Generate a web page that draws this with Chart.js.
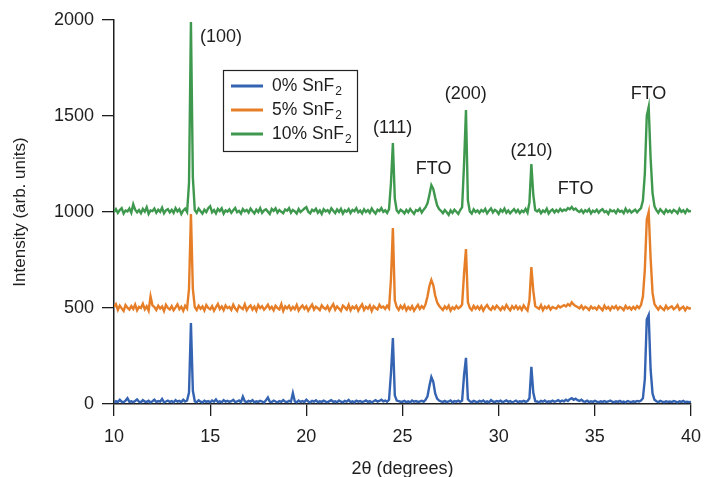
<!DOCTYPE html>
<html>
<head>
<meta charset="utf-8">
<script src="https://cdn.jsdelivr.net/npm/chart.js@4"></script>
<style>
  html, body { margin: 0; padding: 0; background: #fff; }
  #wrap { width: 706px; height: 477px; }
</style>
</head>
<body>
<div id="wrap"><canvas id="xrd" width="706" height="477"></canvas></div>
<script>
// 2theta sampling grid, 0.1 degree step from 10 to 40
const twoTheta = Array.from({ length: 301 }, (_, i) => +(10 + i * 0.1).toFixed(1));

const xTicks = [10, 15, 20, 25, 30, 35, 40];
const yTicks = [0, 500, 1000, 1500, 2000];

const seriesNames = ['0% SnF', '5% SnF', '10% SnF'];

// 0% SnF2 (rows = one degree each)
const int0 = [
  8, 15, 10, 22, 12, 9, 18, 30, 11, 14,
  10, 16, 24, 12, 9, 20, 13, 11, 17, 8,
  14, 22, 10, 15, 12, 26, 9, 13, 18, 11,
  15, 9, 20, 12, 16, 10, 22, 13, 18, 60,
  422, 70, 14, 10, 19, 12, 8, 17, 11, 15,
  9, 18, 12, 24, 10, 14, 9, 20, 12, 16,
  11, 15, 22, 10, 13, 18, 9, 38, 14, 10,
  16, 12, 20, 9, 14, 11, 17, 13, 8, 19,
  34, 12, 10, 18, 13, 9, 15, 11, 20, 12,
  10, 16, 12, 57, 14, 9, 18, 11, 15, 10,
  22, 13, 9, 16, 12, 19, 10, 14, 11, 17,
  12, 9, 15, 20, 11, 14, 10, 18, 12, 9,
  16, 12, 21, 10, 14, 9, 17, 12, 15, 10,
  13, 19, 11, 15, 9, 14, 20, 12, 16, 22,
  14, 18, 12, 22, 160, 344, 45, 18, 15, 12,
  12, 16, 10, 14, 9, 18, 12, 15, 11, 13,
  17, 12, 22, 40, 95, 140, 115, 55, 28, 18,
  14, 11, 16, 10, 13, 18, 9, 15, 12, 17,
  11, 18, 150, 240, 25, 14, 10, 16, 12, 9,
  16, 12, 18, 10, 14, 9, 20, 13, 11, 15,
  12, 17, 10, 14, 19, 11, 15, 9, 13, 18,
  10, 14, 12, 16, 11, 15, 30, 193, 60, 15,
  13, 9, 16, 12, 18, 10, 14, 11, 17, 12,
  15, 20, 12, 18, 14, 22, 16, 25, 30, 22,
  28, 20, 16, 22, 14, 12, 17, 10, 14, 11,
  16, 12, 9, 14, 11, 15, 10, 13, 18, 12,
  9, 14, 11, 16, 10, 13, 8, 15, 12, 10,
  14, 11, 16, 13, 18, 30, 130, 440, 464, 180,
  55, 22, 14, 10, 16, 12, 9, 14, 11, 13,
  10, 15, 12, 8, 14, 11, 16, 9, 12, 10,
  11
];

// 5% SnF2, offset by 500
const int5 = [
  505, 520, 490, 512, 498, 485, 515, 502, 492, 510,
  495, 518, 488, 506, 500, 522, 493, 509, 486, 560,
  514, 505, 490, 512, 497, 508, 484, 516, 500, 492,
  510, 488, 503, 519, 494, 507, 486, 512, 498, 600,
  990, 600, 505, 490, 512, 496, 508, 487, 515, 500,
  493, 510, 486, 504, 521, 495, 508, 489, 513, 499,
  506, 490, 517, 498, 485, 511, 502, 494, 519, 488,
  504, 513, 492, 507, 486, 515, 499, 509, 491, 503,
  517, 495, 506, 488, 512, 500, 493, 520, 485, 508,
  498, 511, 490, 505, 494, 516, 487, 502, 513, 496,
  509, 486, 503, 518, 492, 507, 499, 489, 514, 501,
  494, 510, 487, 505, 520, 491, 508, 497, 485, 512,
  503, 492, 516, 488, 507, 498, 511, 486, 504, 519,
  490, 506, 497, 513, 485, 509, 500, 493, 517, 502,
  508, 495, 512, 498, 650, 917, 540, 505, 490, 511,
  497, 514, 488, 505, 493, 510, 486, 502, 516, 495,
  509, 498, 520, 560, 615, 646, 620, 565, 530, 512,
  500, 490, 508, 496, 512, 487, 503, 494, 510, 498,
  505, 518, 680, 807, 530, 500, 489, 511, 496, 508,
  493, 510, 487, 504, 515, 498, 490, 507, 495, 512,
  501, 489, 506, 494, 516, 500, 488, 509, 497, 511,
  494, 506, 490, 513, 499, 487, 540, 713, 590, 510,
  502, 496, 515, 489, 507, 498, 510, 492, 505, 500,
  497, 512, 503, 509, 515, 508, 520, 512, 530, 518,
  510, 505, 498, 512, 494, 506, 500, 490, 508, 497,
  503, 492, 509, 499, 488, 512, 496, 505, 490, 507,
  498, 510, 493, 505, 500, 489, 511, 497, 504, 492,
  506, 495, 510, 500, 515, 560, 700, 960, 1000, 760,
  580, 520, 505, 492, 508, 498, 489, 511, 495, 503,
  509, 494, 502, 515, 491, 500, 507, 488, 504, 497,
  499
];

// 10% SnF2, offset by 1000
const int10 = [
  1000, 1015, 995, 1010, 1020, 992, 1008, 1003, 1018, 996,
  1040, 1012, 998, 1010, 994, 1016, 1002, 1025, 990, 1008,
  1005, 1018, 996, 1012, 1001, 1022, 993, 1009, 1015, 998,
  1011, 995, 1020, 1003, 1014, 990, 1008, 1017, 1000, 1150,
  1990, 1180, 1010, 996, 1018, 1004, 992, 1012, 1000, 1020,
  1030, 998, 1010, 993, 1016, 1005, 1019, 991, 1008, 1002,
  1014, 996, 1009, 1021, 999, 1006, 992, 1015, 1003, 1011,
  997, 1018, 1004, 993, 1012, 1000, 1020, 995, 1008, 1014,
  1002, 990, 1016, 1006, 1019, 997, 1010, 1001, 994, 1013,
  1007, 1020, 996, 1011, 1003, 992, 1015, 999, 1009, 1018,
  1025, 1001, 993, 1012, 1005, 1017, 996, 1008, 990, 1014,
  1003, 1010, 997, 1019, 1006, 994, 1013, 1000, 1016, 992,
  1009, 1002, 1015, 995, 1011, 1004, 1020, 998, 1007, 993,
  1014, 1000, 1010, 996, 1018, 1003, 992, 1012, 1005, 1020,
  1001, 1009, 995, 1015, 1150, 1359, 1070, 1008, 996, 1012,
  1004, 993, 1011, 998, 1016, 1002, 990, 1010, 1005, 1018,
  997, 1012, 1025, 1045, 1090, 1140, 1120, 1075, 1035, 1015,
  1006, 994, 1010, 999, 985, 1008, 995, 1012, 1001, 990,
  1010, 1025, 1250, 1531, 1060, 1003, 992, 1014, 1000, 1008,
  995, 1010, 1002, 1016, 993, 1007, 1019, 998, 1011, 1004,
  990, 1012, 1001, 1018, 996, 1008, 993, 1005, 1015, 999,
  1011, 994, 1007, 1000, 1016, 997, 1050, 1250, 1090, 1010,
  1003, 1012, 994, 1008, 1000, 1017, 992, 1006, 1013, 998,
  1010, 1001, 1016, 1005, 1012, 1008, 1020, 1014, 1026, 1012,
  1018, 1006, 1000, 1011, 995, 1009, 1002, 1014, 993, 1007,
  1000, 1012, 996, 1008, 1015, 999, 1005, 990, 1011, 1003,
  1008, 995, 1013, 1001, 1006, 994, 1017, 1000, 1010, 997,
  1005, 1012, 998, 1010, 1020, 1060, 1200, 1500, 1547, 1280,
  1100, 1030, 1010, 996, 1014, 1003, 992, 1012, 1000, 1008,
  997, 1011, 1004, 993, 1016, 1000, 1009, 995, 1013, 1003,
  1005
];

// peak labels: text, 2theta, intensity
const peakText = ['(100)', '(111)', 'FTO', '(200)', '(210)', 'FTO', 'FTO'];
const peakX = [15.56, 24.49, 26.62, 28.29, 31.71, 34.0, 37.79];
const peakY = [1911, 1437, 1224, 1615, 1318, 1120, 1615];

const colors = ['#3463b2', '#e67e28', '#3e984e'];
const FONT = '"Liberation Sans", Arial, sans-serif';
const INK = '#1e1e1e';

function toPoints(vals) {
  return vals.map((v, i) => ({ x: twoTheta[i], y: v }));
}

const peakLabels = {
  id: 'peakLabels',
  afterDatasetsDraw(chart) {
    const { ctx, scales: { x, y } } = chart;
    ctx.save();
    ctx.font = '18px ' + FONT;
    ctx.fillStyle = INK;
    ctx.textAlign = 'center';
    ctx.textBaseline = 'middle';
    peakText.forEach((t, i) => {
      ctx.fillText(t, x.getPixelForValue(peakX[i]), y.getPixelForValue(peakY[i]));
    });
    ctx.restore();
  }
};

const boxLegend = {
  id: 'boxLegend',
  afterDraw(chart) {
    const { ctx, chartArea } = chart;
    const left = chartArea.left + 109, top = chartArea.top + 50;
    ctx.save();
    ctx.fillStyle = '#fff';
    ctx.fillRect(left, top, 134, 81);
    ctx.strokeStyle = '#222';
    ctx.lineWidth = 1.2;
    ctx.strokeRect(left + 0.5, top + 0.5, 134, 81);
    seriesNames.forEach((name, i) => {
      const yy = top + 16 + i * 24;
      ctx.strokeStyle = colors[i];
      ctx.lineWidth = 3;
      ctx.beginPath();
      ctx.moveTo(left + 8, yy);
      ctx.lineTo(left + 40, yy);
      ctx.stroke();
      ctx.fillStyle = INK;
      ctx.textAlign = 'left';
      ctx.textBaseline = 'middle';
      ctx.font = '17.5px ' + FONT;
      ctx.fillText(name, left + 49, yy);
      const w = ctx.measureText(name).width;
      ctx.font = '12px ' + FONT;
      ctx.fillText('2', left + 49 + w + 1, yy + 6);
    });
    ctx.restore();
  }
};

const axisCommon = {
  grid: { drawOnChartArea: false, drawTicks: true, tickLength: 12, color: INK, lineWidth: 1.3 },
  border: { display: true, color: INK, width: 1.5 },
};

new Chart(document.getElementById('xrd'), {
  type: 'line',
  data: {
    datasets: [
      { label: '0% SnF2', data: toPoints(int0), borderColor: colors[0], order: 2 },
      { label: '5% SnF2', data: toPoints(int5), borderColor: colors[1], order: 1 },
      { label: '10% SnF2', data: toPoints(int10), borderColor: colors[2], order: 0 }
    ]
  },
  options: {
    responsive: false,
    animation: false,
    devicePixelRatio: 1,
    layout: { padding: { left: 0, right: 15, top: 20, bottom: 0 } },
    elements: {
      line: { borderWidth: 2.4, tension: 0 },
      point: { radius: 0 }
    },
    plugins: { legend: { display: false }, tooltip: { enabled: false } },
    scales: {
      x: {
        type: 'linear',
        min: 10,
        max: 40,
        afterBuildTicks: (s) => { s.ticks = xTicks.map(v => ({ value: v })); },
        afterFit: (s) => { s.height = 73; s.paddingLeft = 0; s.paddingRight = 0; },
        ticks: { font: { size: 18, family: FONT }, color: INK, padding: 10, maxRotation: 0, callback: (v) => String(v) },
        title: { display: true, text: '2θ (degrees)', font: { size: 18, family: FONT }, color: INK, padding: { top: 0, bottom: -2.5 } },
        ...axisCommon
      },
      y: {
        min: 0,
        max: 2000,
        afterBuildTicks: (s) => { s.ticks = yTicks.map(v => ({ value: v })); },
        afterFit: (s) => { s.width = 114; s.paddingTop = 0; s.paddingBottom = 0; },
        ticks: { font: { size: 18, family: FONT }, color: INK, padding: 8, callback: (v) => String(v) },
        title: { display: true, text: 'Intensity (arb. units)', font: { size: 17, family: FONT }, color: INK, padding: { top: 10, bottom: 0 } },
        ...axisCommon
      }
    }
  },
  plugins: [peakLabels, boxLegend]
});
</script>
</body>
</html>
